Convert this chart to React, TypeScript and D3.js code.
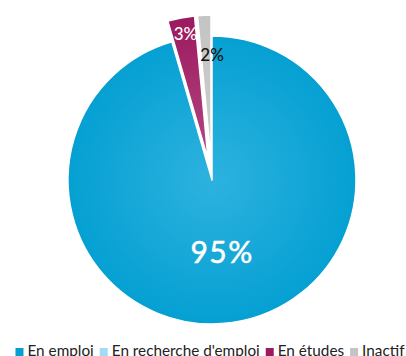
import React, { useEffect, useRef } from "react";
import * as d3 from "d3";

const categories = ["En emploi", "En recherche d'emploi", "En études", "Inactif"];
const values = [95.5, 0, 3, 1.5];
const labels = ["95%", "", "3%", "2%"];
const colors = ["#05a0d2", "#a3dcf0", "#9c1a5f", "#c4c4c4"];
const innerColors = ["#2db2df", "#b6e4f4", "#b34682", "#cdcdcd"];
const labelColors = ["#ffffff", "#ffffff", "#ffffff", "#111111"];
const sliced = [false, false, true, true];

export default function App() {
  const ref = useRef<SVGSVGElement>(null);

  useEffect(() => {
    const svg = d3.select(ref.current!);
    svg.selectAll("*").remove();
    const W = 406, H = 356;
    const cx = 212, cy = 180, r = 144, off = 21;
    const font = "Lato, 'Open Sans', sans-serif";

    const defs = svg.append("defs");
    colors.forEach((c, i) => {
      const g = defs.append("radialGradient")
        .attr("id", "grad" + i)
        .attr("gradientUnits", "userSpaceOnUse")
        .attr("cx", 0).attr("cy", 0).attr("r", r);
      g.append("stop").attr("offset", "0%").attr("stop-color", innerColors[i]);
      g.append("stop").attr("offset", "100%").attr("stop-color", c);
    });

    const pie = d3.pie<number>().sort(null).value(d => d);
    const arcs = pie(values);
    const arc = d3.arc<d3.PieArcDatum<number>>().innerRadius(0).outerRadius(r);

    const g = svg.append("g").attr("transform", `translate(${cx},${cy})`);
    const labelDist = [72, 0, 126, 105];
    const labelDx = [0, 0, 1, 6];
    const labelDy = [0, 0, -2, 0];

    arcs.forEach((a, i) => {
      if (a.value === 0) return;
      const mid = (a.startAngle + a.endAngle) / 2;
      const dx = sliced[i] ? off * Math.sin(mid) : 0;
      const dy = sliced[i] ? -off * Math.cos(mid) : 0;
      const sg = g.append("g").attr("transform", `translate(${dx},${dy})`);
      sg.append("path")
        .attr("d", arc(a) as string)
        .attr("fill", `url(#grad${i})`)
        .attr("stroke", "#ffffff")
        .attr("stroke-width", 1.5)
        .attr("stroke-linejoin", "round");
    });

    arcs.forEach((a, i) => {
      if (!labels[i]) return;
      const mid = (a.startAngle + a.endAngle) / 2;
      const o = sliced[i] ? off : 0;
      const d = labelDist[i] + o;
      const x = d * Math.sin(mid) + labelDx[i];
      const y = -d * Math.cos(mid) + labelDy[i];
      g.append("text")
        .attr("x", x).attr("y", y)
        .attr("text-anchor", "middle")
        .attr("dominant-baseline", "central")
        .attr("font-family", font)
        .attr("font-size", i === 0 ? 30 : 17)
        .attr("font-weight", i === 0 ? 400 : 500)
        .attr("letter-spacing", i === 0 ? 1.5 : 0)
        .attr("stroke", i === 0 ? "#ffffff" : "none")
        .attr("stroke-width", i === 0 ? 0.5 : 0)
        .attr("fill", labelColors[i])
        .text(labels[i]);
    });

    // legend
    const lg = svg.append("g");
    const items: { g: any; w: number }[] = [];
    categories.forEach((c, i) => {
      const ig = lg.append("g");
      ig.append("rect").attr("x", 0).attr("y", -8).attr("width", 8).attr("height", 8)
        .attr("fill", colors[i]);
      const t = ig.append("text").attr("x", 12).attr("y", 0)
        .attr("font-family", font).attr("font-size", 15.3).attr("fill", "#222")
        .text(c);
      const tw = (t.node() as SVGTextElement).getComputedTextLength();
      items.push({ g: ig, w: 12 + tw });
    });
    const gap = 6;
    const total = items.reduce((s, it) => s + it.w, 0) + gap * (items.length - 1);
    let x = 210 - total / 2;
    items.forEach(it => {
      it.g.attr("transform", `translate(${x},356)`);
      x += it.w + gap;
    });
    svg.attr("width", W).attr("height", H);
  }, []);

  return (
    <svg ref={ref} width={406} height={356}
      style={{ position: "absolute", left: 0, top: 0, display: "block", background: "#fff" }} />
  );
}
